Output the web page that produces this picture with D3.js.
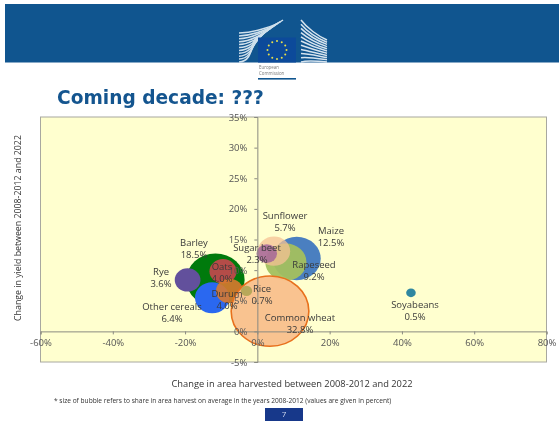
<!DOCTYPE html>
<html><head><meta charset="utf-8">
<script src="https://cdn.jsdelivr.net/npm/d3@7"></script>
<style>
html,body{margin:0;padding:0;background:#fff;overflow:hidden}
svg{display:block;filter:blur(0.45px)}
text{font-family:"Open Sans",sans-serif}
</style></head><body>
<svg id="c" width="559" height="421"></svg>
<script>
const crops   = ["Barley","Maize","Rapeseed","Sunflower","Oats","Other cereals","Durum","Rye","Sugar beet","Rice","Common wheat","Soyabeans"];
const areaChg = [-11.6,10.9,7.9,4.6,-9.5,-12.5,-7.7,-19.3,2.6,-3,3.5,42.5];
const yieldChg= [8.4,11.9,11.3,13.1,9.8,5.5,6.6,8.4,12.7,6.6,3.3,6.3];
const shares  = [18.5,12.5,9.2,5.7,4.0,6.4,4.0,3.6,2.3,0.7,32.8,0.5];
const shareLabels = ["18.5%","12.5%","9.2%","5.7%","4.0%","6.4%","4.0%","3.6%","2.3%","0.7%","32.8%","0.5%"];
const fills   = ["#007a0c","#4a7fc0","#a3c05e","#f6c294","#c8474f","#2a68f0","#d8792f","#62509c","#a0609a","#b8a85a","#f9c08c","#2f87a0"];
const strokes = ["#007a0c","#4a7fc0","#a3c05e","#f6c294","#c8474f","#2a68f0","#d8792f","#62509c","#a0609a","#b8a85a","#e8701c","#2f87a0"];
const opac    = [1,1,.95,.75,.9,1,.9,1,.8,1,.95,1];
const drawOrder=[1,2,3,8,0,7,4,5,6,10,9,11];
const xTicks = [-60,-40,-20,0,20,40,60,80];
const yTicks = [-5,0,5,10,15,20,25,30,35];

const svg=d3.select("#c");
const L=40.5,R=546.5,T=117,B=362;
// header
svg.append("rect").attr("x",5).attr("y",4).attr("width",554).attr("height",58.5).attr("fill","#10558f");
const logo=svg.append("g");
// left wing: stacked curved stripes rising to the right
d3.range(0,11).forEach(i=>{
  const t=i/10;
  const y0=33+t*29, xe=258+(1-t)*25, ye=20+t*17;
  logo.append("path").attr("d",`M239 ${y0}C255 ${y0-0.5} ${xe-8} ${ye+6-t*5} ${xe} ${ye}`)
    .attr("fill","none").attr("stroke","#cfe0ec").attr("stroke-width",1.5);
});
// right wing
d3.range(0,11).forEach(i=>{
  const t=i/10;
  logo.append("path").attr("d",`M301 ${20+t*42}C307 ${28+t*32} 318 ${36+t*25} 327 ${40+t*22}`)
    .attr("fill","none").attr("stroke","#d5e3ee").attr("stroke-width",1.5);
});
logo.append("rect").attr("x",258).attr("y",37.5).attr("width",38).attr("height",25).attr("fill","#0c4a9a");
d3.range(12).forEach(i=>{
  const a=i/12*2*Math.PI;
  logo.append("circle").attr("cx",277+9.5*Math.cos(a)).attr("cy",50+9*Math.sin(a)).attr("r",1).attr("fill","#e8e04a");
});
logo.append("text").attr("x",259).attr("y",69).attr("font-size",4.4).attr("fill","#777").text("European");
logo.append("text").attr("x",259).attr("y",75).attr("font-size",4.4).attr("fill","#777").text("Commission");
logo.append("rect").attr("x",258).attr("y",78).attr("width",38).attr("height",1.6).attr("fill","#10558f");
// title
svg.append("text").attr("x",57).attr("y",104).attr("font-size",18.6).attr("font-weight",700)
  .style("font-family","'DejaVu Sans',sans-serif").attr("fill","#14558f").text("Coming decade: ???");
// plot
const x=d3.scaleLinear().domain([-60,80]).range([L,R]);
const y=d3.scaleLinear().domain([-5,35]).range([B,T]);
const r=d3.scaleSqrt().domain([0,32.8]).range([0,37]);
svg.append("rect").attr("x",L).attr("y",T).attr("width",R-L).attr("height",B-T).attr("fill","#ffffcf").attr("stroke","#a8a8a0").attr("stroke-width",1);
// bubbles
svg.append("g").selectAll("ellipse").data(drawOrder).join("ellipse")
  .attr("cx",i=>x(areaChg[i])).attr("cy",i=>y(yieldChg[i]))
  .attr("rx",i=>r(shares[i])*1.05).attr("ry",i=>r(shares[i])*.95)
  .attr("fill",i=>fills[i]).attr("fill-opacity",i=>opac[i])
  .attr("stroke",i=>strokes[i]).attr("stroke-width",i=>i===10?1.6:0);
// axes
const axX=svg.append("g").attr("transform",`translate(0,${y(0)})`)
  .call(d3.axisBottom(x).tickValues(xTicks).tickFormat(d=>d+"%").tickSize(3).tickPadding(5));
const axY=svg.append("g").attr("transform",`translate(${x(0)},0)`)
  .call(d3.axisLeft(y).tickValues(yTicks).tickFormat(d=>d+"%").tickSize(3).tickPadding(7));
[axX,axY].forEach(a=>{
  a.selectAll("path,line").attr("stroke","#8a8a80").attr("stroke-width",1);
  a.selectAll("text").attr("font-size",9.5).attr("fill","#555").style("font-family","'Open Sans',sans-serif");
});
// labels
const nudge={Barley:[194,246],Maize:[331,234],Rapeseed:[314,268],Sunflower:[285,219],Oats:[222,270],"Other cereals":[172,310],Durum:[227,297],Rye:[161,275],"Sugar beet":[257,251],Rice:[262,292],"Common wheat":[300,321],Soyabeans:[415,308]};
const lab=svg.append("g").attr("font-size",9.5).attr("fill","#3a3a3a").attr("text-anchor","middle");
crops.forEach((c,i)=>{
  const p=nudge[c];
  lab.append("text").attr("x",p[0]).attr("y",p[1]).text(c);
  lab.append("text").attr("x",p[0]).attr("y",p[1]+12).text(shareLabels[i]);
});
// axis titles
svg.append("text").attr("x",292).attr("y",387).attr("text-anchor","middle").attr("font-size",9.3).attr("fill","#333").text("Change in area harvested between 2008-2012 and 2022");
svg.append("text").attr("transform","translate(21,228) rotate(-90)").attr("text-anchor","middle").attr("font-size",8.8).attr("fill","#333").text("Change in yield between 2008-2012 and 2022");
svg.append("text").attr("x",54).attr("y",403).attr("font-size",6.6).attr("fill","#333").text("* size of bubble refers to share in area harvest on average in the years 2008-2012 (values are given in percent)");
// page number
svg.append("rect").attr("x",265).attr("y",408).attr("width",38).attr("height",13).attr("fill","#17388a");
svg.append("text").attr("x",284).attr("y",417).attr("text-anchor","middle").attr("font-size",8).attr("fill","#cfd8ee").text("7");
</script>
</body></html>
